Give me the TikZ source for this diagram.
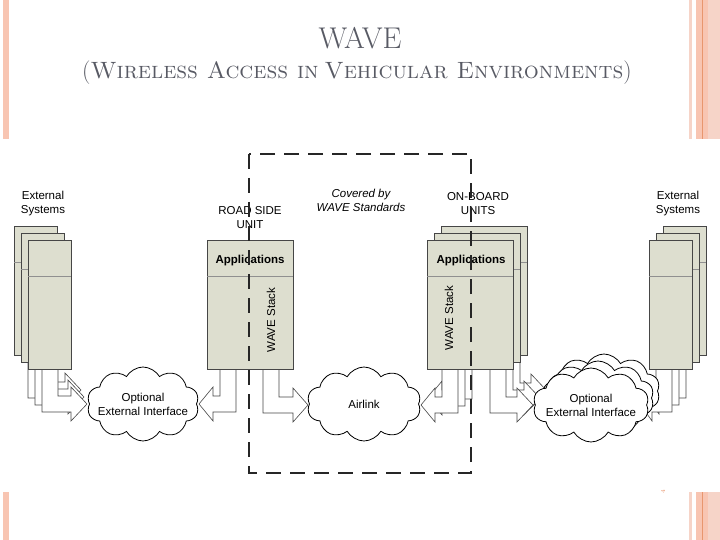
\documentclass[tikz,border=0pt]{standalone}
\usepackage{fontspec}
\setsansfont{Liberation Sans}
\usetikzlibrary{shapes.symbols}

\definecolor{boxfill}{RGB}{221,222,207}
\definecolor{boxline}{RGB}{70,70,70}
\definecolor{titlegray}{RGB}{88,90,100}
\definecolor{slidepink}{RGB}{248,197,178}
\definecolor{slidelight}{RGB}{246,212,200}
\definecolor{slideorange}{RGB}{232,150,110}

\tikzset{
  unitbox/.style={draw=boxline, fill=boxfill, line width=0.8pt, minimum width=86pt,
    minimum height=129pt, inner sep=0pt, anchor=north west},
  extbox/.style={unitbox, minimum width=43pt},
  linkcloud/.style={cloud, cloud puffs=10, cloud puff arc=120, cloud ignores aspect,
    draw=black, fill=white, line width=0.8pt, minimum width=112pt, minimum height=74pt,
    inner sep=0pt},
  unitlabel/.style={align=center, font=\sffamily\fontsize{11.5}{14}\selectfont},
  boldlabel/.style={font=\sffamily\bfseries\fontsize{11.5}{14}\selectfont},
  blockarrow/.style={fill=white, draw=boxline, line width=0.6pt, line join=miter},
  wavedash/.style={draw=black!85, line width=1.3pt, dash pattern=on 15pt off 9pt},
  slidetitle/.style={text=titlegray, font=\fontsize{23.6}{28}\selectfont},
}

% bent block arrow: outer x, inner x, top y, lower y, head base x, tip x
\newcommand{\bentarrow}[6]{%
  \path[blockarrow] (#1,#3) -- (#1,#4) -- (#5,#4) -- (#5,#4+9) -- (#6,#4-8)
    -- (#5,#4-25) -- (#5,#4-16) -- (#2,#4-16) -- (#2,#3);}

\begin{document}
\begin{tikzpicture}[x=1pt, y=-1pt]
  \useasboundingbox (0,0) rectangle (720,540);

  % slide border stripes
  \fill[slidepink] (3,0) rectangle (9,139);
  \fill[slidepink] (3,492) rectangle (9,540);
  \foreach \ya/\yb in {0/139, 492/540} {
    \fill[slidelight] (689,\ya) rectangle (692,\yb);
    \fill[slidepink] (696,\ya) rectangle (720,\yb);
    \fill[slidelight] (708,\ya) rectangle (720,\yb);
    \draw[slideorange, line width=0.8pt] (702,\ya) -- (702,\yb);
  }
  \node[text=slideorange, rotate=90, font=\fontsize{6}{6}\selectfont] (pagenum) at (663,492) {4};

  % title
  \node[slidetitle, font=\fontsize{30}{32}\selectfont] (title) at (360,38) {WAVE};
  \node[slidetitle] (subtitle) at (357,73) {(\textsc{Wireless Access in\hspace{-3pt} Vehicular Environments})};

  % arrows (back to front)
  \bentarrow{28}{44}{355}{398}{65}{81}
  \bentarrow{35}{51}{362}{405}{68}{84}
  \bentarrow{42}{58}{369}{412}{71}{87}
  \bentarrow{236}{220}{369}{412}{213}{199}
  \bentarrow{263}{279}{369}{413}{293}{308}
  \bentarrow{472}{456}{355}{399}{449}{435}
  \bentarrow{504}{520}{355}{399}{531}{547}
  \bentarrow{465}{449}{362}{406}{442}{428}
  \bentarrow{497}{513}{362}{406}{524}{540}
  \bentarrow{458}{442}{369}{413}{435}{421}
  \bentarrow{490}{506}{369}{413}{517}{533}
  \bentarrow{686}{670}{355}{398}{666}{654}
  \bentarrow{679}{663}{362}{405}{659}{647}
  \bentarrow{672}{656}{369}{412}{652}{640}

  % external systems, left
  \node[unitlabel] (lblExtL) at (43,204) {External\\Systems};
  \foreach \i/\xx/\yy in {3/14/226, 2/21/233, 1/28/240} {
    \node[extbox] (extL\i) at (\xx,\yy) {};
    \draw[boxline!60, line width=0.5pt] (extL\i.north west) ++(0,36) -- ++(43,0);
  }

  % road side unit
  \node[unitlabel] (lblRSU) at (250,218) {ROAD SIDE\\UNIT};
  \node[unitbox] (rsu) at (207,240) {};
  \draw[boxline!60, line width=0.5pt] (rsu.north west) ++(0,36) -- ++(86,0);
  \node[boldlabel] (rsuApp) at (250,261) {Applications};
  \node[unitlabel, rotate=90] (rsuStack) at (271,320) {WAVE Stack};

  % on-board units
  \node[unitlabel] (lblOBU) at (478,204) {ON-BOARD\\UNITS};
  \foreach \i/\xx/\yy in {3/441/226, 2/434/233, 1/427/240} {
    \node[unitbox] (obu\i) at (\xx,\yy) {};
    \draw[boxline!60, line width=0.5pt] (obu\i.north west) ++(0,36) -- ++(86,0);
  }
  \node[boldlabel] (obuApp) at (471,261) {Applications};
  \node[unitlabel, rotate=90] (obuStack) at (449,318) {WAVE Stack};

  % external systems, right
  \node[unitlabel] (lblExtR) at (678,204) {External\\Systems};
  \foreach \i/\xx/\yy in {3/663/226, 2/656/233, 1/649/240} {
    \node[extbox] (extR\i) at (\xx,\yy) {};
    \draw[boxline!60, line width=0.5pt] (extR\i.north west) ++(0,36) -- ++(43,0);
  }

  % clouds
  \node[linkcloud] (cloudL) at (143,404) {};
  \node[unitlabel] at (cloudL.center) {Optional\\External Interface};
  \node[linkcloud, minimum width=114pt] (airlink) at (364,404) {};
  \node[unitlabel] at (airlink.center) {Airlink};
  \node[linkcloud] (cloudR3) at (604,391) {};
  \node[linkcloud] (cloudR2) at (598,398) {};
  \node[linkcloud, minimum width=116pt] (cloudR1) at (591,405) {};
  \node[unitlabel] at (cloudR1.center) {Optional\\External Interface};

  % scope of the standards
  \node[unitlabel, font=\sffamily\itshape\fontsize{11.5}{14}\selectfont] (lblCovered) at (361,200) {Covered by\\WAVE Standards};
  \draw[wavedash] (249,154) rectangle (471,473);
\end{tikzpicture}
\end{document}
